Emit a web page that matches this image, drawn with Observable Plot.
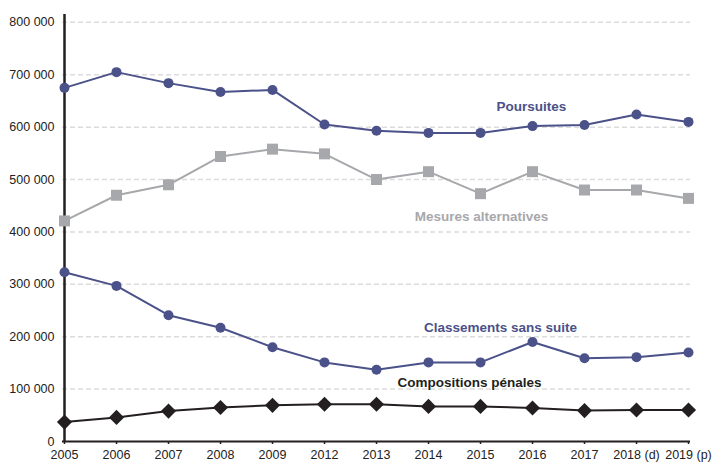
<!DOCTYPE html>
<html>
<head>
<meta charset="utf-8">
<script src="https://cdn.jsdelivr.net/npm/d3@7"></script>
<script src="https://cdn.jsdelivr.net/npm/@observablehq/plot@0.6"></script>
<style>
  html, body { margin: 0; padding: 0; background: #fff; }
  #chart svg { display: block; }
</style>
</head>
<body>
<div id="chart"></div>
<script>
const years = ["2005","2006","2007","2008","2009","2012","2013","2014","2015","2016","2017","2018 (d)","2019 (p)"];
const poursuites   = [675000,705000,684000,667000,671000,605000,593000,589000,589000,602000,604000,624000,610000];
const mesures      = [421000,470000,490000,544000,558000,549000,500000,515000,473000,515000,480000,480000,464000];
const classements  = [323000,297000,241000,217000,180000,151000,137000,151000,151000,190000,159000,161000,170000];
const compositions = [37000,46000,58000,65000,69000,71000,71000,67000,67000,64000,59000,60000,60000];
const yTicks = [0,100000,200000,300000,400000,500000,600000,700000,800000];
const yMax = 815000;

const seriesNames = ["Poursuites","Mesures alternatives","Classements sans suite","Compositions pénales"];
const labelYear  = ["2016","2015","2015","2015"];
const labelValue = [639000,429000,217500,113000];
const labelDx    = [-1, 1, 20, -11];

const blue = "#4b5189", gray = "#a7a8ab", black = "#231f20";
const colors = [blue, gray, blue, black];

const toRows = (vals) => years.map((y, i) => ({year: y, value: vals[i]}));
const P = toRows(poursuites), M = toRows(mesures), C = toRows(classements), K = toRows(compositions);

const fmt = d => d3.format(",")(d).replace(/,/g, " ");

const labelMarks = seriesNames.map((n, i) =>
  Plot.text([{name: n, year: labelYear[i], value: labelValue[i]}],
    {x: "year", y: "value", dx: labelDx[i], text: "name", fill: colors[i], fontWeight: "bold", fontSize: 13.5}));

const chart = Plot.plot({
  width: 716,
  height: 463,
  marginLeft: 62,
  marginRight: 26,
  marginTop: 14,
  marginBottom: 22,
  style: {fontFamily: "Liberation Sans, Arial, sans-serif", fontSize: "12.5px", color: "#222", background: "#fff"},
  x: {type: "point", domain: years, padding: 0},
  y: {domain: [0, yMax]},
  marks: [
    Plot.ruleY(yTicks.filter(d => d > 0), {stroke: "#dcdcdc", strokeWidth: 1.5, strokeDasharray: "5,3"}),
    Plot.axisY({ticks: yTicks, tickSize: 0, tickPadding: 8, tickFormat: fmt, fill: "#222", label: null}),
    Plot.axisX({tickSize: 3, tickPadding: 6, stroke: black, strokeWidth: 1.5, fill: "#222", label: null}),
    Plot.ruleY([0], {stroke: black, strokeWidth: 2}),
    Plot.ruleX([years[0]], {y1: 0, y2: yMax, stroke: black, strokeWidth: 2.5}),
    Plot.line(M, {x: "year", y: "value", stroke: gray, strokeWidth: 2}),
    Plot.dot(M, {x: "year", y: "value", symbol: "square", r: 6.2, fill: gray, stroke: "none"}),
    Plot.line(P, {x: "year", y: "value", stroke: blue, strokeWidth: 2}),
    Plot.dot(P, {x: "year", y: "value", r: 5, fill: blue, stroke: "none"}),
    Plot.line(C, {x: "year", y: "value", stroke: blue, strokeWidth: 2}),
    Plot.dot(C, {x: "year", y: "value", r: 5, fill: blue, stroke: "none"}),
    Plot.line(K, {x: "year", y: "value", stroke: black, strokeWidth: 2}),
    Plot.dot(K, {x: "year", y: "value", symbol: "diamond2", r: 6.8, fill: black, stroke: "none"}),
    ...labelMarks
  ]
});
document.getElementById("chart").appendChild(chart);
</script>
</body>
</html>
